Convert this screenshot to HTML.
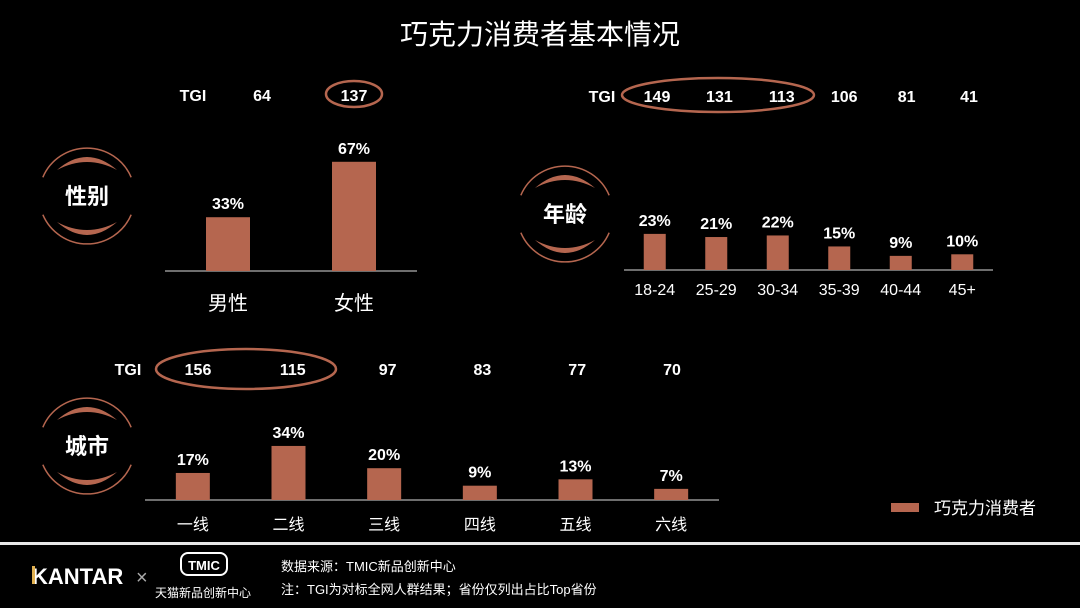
<!DOCTYPE html>
<html><head><meta charset="utf-8">
<style>
body{margin:0;background:#000;}
svg{display:block;font-family:"Liberation Sans","Noto Sans CJK SC",sans-serif;}
</style></head>
<body>
<svg id="s" width="1080" height="608" viewBox="0 0 1080 608" xmlns="http://www.w3.org/2000/svg">
<rect width="1080" height="608" fill="#000"/>
<text x="540" y="44" text-anchor="middle" fill="#fff" font-size="28">巧克力消费者基本情况</text>
<g id="deco"></g>
<g id="charts"></g>
<g>
<rect x="891" y="503" width="28" height="9" fill="#b5664f"/>
<text x="934" y="514" fill="#fff" font-size="17">巧克力消费者</text>
</g>
<rect x="0" y="542" width="1080" height="3" fill="#e8e8e8"/>
<g>
<text x="32" y="584" fill="#fff" font-size="22" font-weight="bold">KANTAR</text>
<rect x="32" y="566" width="3" height="18" fill="#e0b050"/>
<text x="136" y="584" fill="#aaa" font-size="20">×</text>
<rect x="181" y="553" width="46" height="22" rx="7" fill="none" stroke="#fff" stroke-width="2"/>
<text x="204" y="570" text-anchor="middle" fill="#fff" font-size="13" font-weight="bold">TMIC</text>
<text x="203" y="597" text-anchor="middle" fill="#fff" font-size="12">天猫新品创新中心</text>
<text x="281" y="571" fill="#fff" font-size="13">数据来源：TMIC新品创新中心</text>
<text x="281" y="594" fill="#fff" font-size="13">注：TGI为对标全网人群结果；省份仅列出占比Top省份</text>
</g>
</svg>
<script>
const genderCats=["男性","女性"];
const genderVals=[33,67];
const genderTgi=[64,137];
const ageCats=["18-24","25-29","30-34","35-39","40-44","45+"];
const ageVals=[23,21,22,15,9,10];
const ageTgi=[149,131,113,106,81,41];
const cityCats=["一线","二线","三线","四线","五线","六线"];
const cityVals=[17,34,20,9,13,7];
const cityTgi=[156,115,97,83,77,70];

const NS="http://www.w3.org/2000/svg";
const root=document.getElementById('charts');
function mk(tag,attrs,parent){const e=document.createElementNS(NS,tag);for(const k in attrs)e.setAttribute(k,attrs[k]);(parent||root).appendChild(e);return e;}

function drawChart(name,cats,vals,tgi,cfg){
  const g=mk('g',{});
  
  
  const ax=mk('line',{x1:cfg.x0,x2:cfg.x1,y1:cfg.base,y2:cfg.base,stroke:'#ddd','stroke-width':1},g);
  
  
  const step=(cfg.x1-cfg.x0)/cats.length;
  const xc=i=>cfg.x0+step*(i+0.5);
  const yv=v=>cfg.base-v*cfg.k;
  const tl=mk('text',{x:cfg.tgiX,y:cfg.tgiY,'text-anchor':'middle',fill:'#fff','font-size':16,'font-weight':'bold'},g);
  tl.textContent='TGI';
  
  
  cats.forEach((c,i)=>{
    const x=xc(i);
    const r=mk('rect',{x:x-cfg.bw/2,y:yv(vals[i]),width:cfg.bw,height:cfg.base-yv(vals[i]),fill:'#b5664f'},g);
    
    
    const v=mk('text',{x:x,y:yv(vals[i])-8,'text-anchor':'middle',fill:'#fff','font-size':cfg.vfs,'font-weight':'bold'},g);
    v.textContent=vals[i]+'%';
    
    
    const l=mk('text',{x:x,y:cfg.base+cfg.ldy,'text-anchor':'middle',fill:'#fff','font-size':cfg.lfs},g);
    l.textContent=c;
    
    
    const t=mk('text',{x:cfg.tgiStart+cfg.tgiStep*i,y:cfg.tgiY,'text-anchor':'middle',fill:'#fff','font-size':16,'font-weight':'bold'},g);
    t.textContent=tgi[i];
    
    
  });
}
drawChart('gender',genderCats,genderVals,genderTgi,{x0:165,x1:417,base:271,k:1.63,bw:44,vfs:16,lfs:20,ldy:39,tgiX:193,tgiY:101,tgiStart:262,tgiStep:92});
drawChart('age',ageCats,ageVals,ageTgi,{x0:624,x1:993,base:270,k:1.57,bw:22,vfs:16,lfs:16,ldy:25,tgiX:602,tgiY:102,tgiStart:657,tgiStep:62.4});
drawChart('city',cityCats,cityVals,cityTgi,{x0:145,x1:719,base:500,k:1.59,bw:34,vfs:16,lfs:16,ldy:30,tgiX:128,tgiY:375,tgiStart:198,tgiStep:94.8});

const deco=document.getElementById('deco');
function badge(name,cx,cy,label){
  const g=mk('g',{},deco);
  
  
  const r=48;
  mk('path',{d:`M ${cx-r*0.92} ${cy-r*0.39} A ${r} ${r} 0 0 1 ${cx+r*0.92} ${cy-r*0.39}`,fill:'none',stroke:'#b5664f','stroke-width':1.5},g);
  mk('path',{d:`M ${cx-r*0.92} ${cy+r*0.39} A ${r} ${r} 0 0 0 ${cx+r*0.92} ${cy+r*0.39}`,fill:'none',stroke:'#b5664f','stroke-width':1.5},g);
  mk('path',{d:`M ${cx-30} ${cy-26} Q ${cx} ${cy-52} ${cx+30} ${cy-26} Q ${cx} ${cy-42} ${cx-30} ${cy-26} Z`,fill:'#b5664f'},g);
  mk('path',{d:`M ${cx-30} ${cy+26} Q ${cx} ${cy+52} ${cx+30} ${cy+26} Q ${cx} ${cy+42} ${cx-30} ${cy+26} Z`,fill:'#b5664f'},g);
  const t=mk('text',{x:cx,y:cy+8,'text-anchor':'middle',fill:'#fff','font-size':22,'font-weight':'bold'},g);
  t.textContent=label;
  
  
}
badge('gender',87,196,'性别');
badge('age',565,214,'年龄');
badge('city',87,446,'城市');
function hl(name,cx,cy,rx,ry){
  const e=mk('ellipse',{cx:cx,cy:cy,rx:rx,ry:ry,fill:'none',stroke:'#b5664f','stroke-width':2.5},deco);
  
  
}
hl('gender',354,94,28,13);
hl('age',718,95,96,17);
hl('city',246,369,90,20);
</script>
</body></html>
